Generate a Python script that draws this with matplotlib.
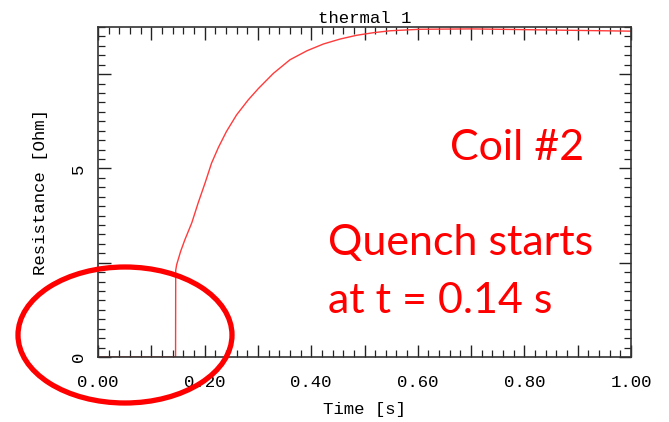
import matplotlib
matplotlib.use('Agg')
import matplotlib.pyplot as plt
from matplotlib.patches import Ellipse
from matplotlib.ticker import MultipleLocator, FuncFormatter

# Coil #2 resistance during the quench
time_s = [0.0, 0.1455, 0.1458, 0.1476, 0.155, 0.163, 0.176, 0.188, 0.201, 0.213,
          0.226, 0.241, 0.260, 0.282, 0.301, 0.329, 0.360, 0.392, 0.423, 0.454,
          0.485, 0.517, 0.548, 0.604, 0.70, 0.80, 0.90, 1.00]
resistance = [0.0, 0.0, 2.30, 2.45, 2.80, 3.11, 3.56, 4.09, 4.62, 5.14,
              5.56, 5.98, 6.42, 6.82, 7.12, 7.52, 7.88, 8.12, 8.30, 8.43,
              8.53, 8.60, 8.65, 8.69, 8.70, 8.68, 8.66, 8.64]

x_labels = {0.0: '0.00', 0.2: '0.20', 0.4: '0.40', 0.6: '0.60', 0.8: '0.80', 1.0: '1.00'}
y_labels = {0.0: '0', 5.0: '5'}

mono = 'Liberation Mono'

fig = plt.figure(figsize=(6.69, 4.22), dpi=100)
ax = fig.add_axes([0.1465, 0.154, 0.7967, 0.782])

ax.plot(time_s, resistance, color='#ff3b3b', lw=1.0)

ax.set_xlim(0, 1.0)
ax.set_ylim(0, 8.75)

ax.xaxis.set_major_locator(MultipleLocator(0.1))
ax.xaxis.set_minor_locator(MultipleLocator(0.02))
ax.yaxis.set_major_locator(MultipleLocator(2.5))
ax.yaxis.set_minor_locator(MultipleLocator(0.25))


def fmt_x(v, pos):
    return x_labels.get(round(v, 2), '')


def fmt_y(v, pos):
    return y_labels.get(round(v, 2), '')


ax.xaxis.set_major_formatter(FuncFormatter(fmt_x))
ax.yaxis.set_major_formatter(FuncFormatter(fmt_y))

ax.tick_params(which='both', direction='in', top=True, right=True, color='#222222')
ax.tick_params(which='major', length=9, width=1.0)
ax.tick_params(which='minor', length=5, width=0.9)
ax.tick_params(axis='x', which='major', pad=13, labelsize=12.5)
ax.tick_params(axis='y', which='major', pad=9, labelsize=12.5)
for lab in ax.get_xticklabels() + ax.get_yticklabels():
    lab.set_fontfamily(mono)
for lab in ax.get_yticklabels():
    lab.set_rotation(90)
    lab.set_va('center')

for sp in ax.spines.values():
    sp.set_color('#333333')
    sp.set_linewidth(1.2)

ax.set_title('thermal 1', fontfamily=mono, fontsize=12.5, pad=3)
ax.set_xlabel('Time [s]', fontfamily=mono, fontsize=12.5)
ax.set_ylabel('Resistance [Ohm]', fontfamily=mono, fontsize=12.5)
ax.xaxis.set_label_coords(0.5, -0.135)
ax.yaxis.set_label_coords(-0.094, 0.5)

# annotations
ann = dict(color='#ff0000', family='Lato', fontsize=31)
fig.text(0.773, 0.622, 'Coil #2', ha='center', va='baseline', **ann)
fig.text(0.490, 0.396, 'Quench starts', ha='left', va='baseline', **ann)
fig.text(0.490, 0.258, 'at t = 0.14 s', ha='left', va='baseline', **ann)

# ring around the quench onset
ring = Ellipse((125 / 669, 1 - 335 / 422), 214 / 669, 136 / 422,
               transform=fig.transFigure, fill=False, edgecolor='#ff0000',
               lw=3.8, zorder=10)
fig.patches.append(ring)

fig.savefig('out.png', dpi=100)
